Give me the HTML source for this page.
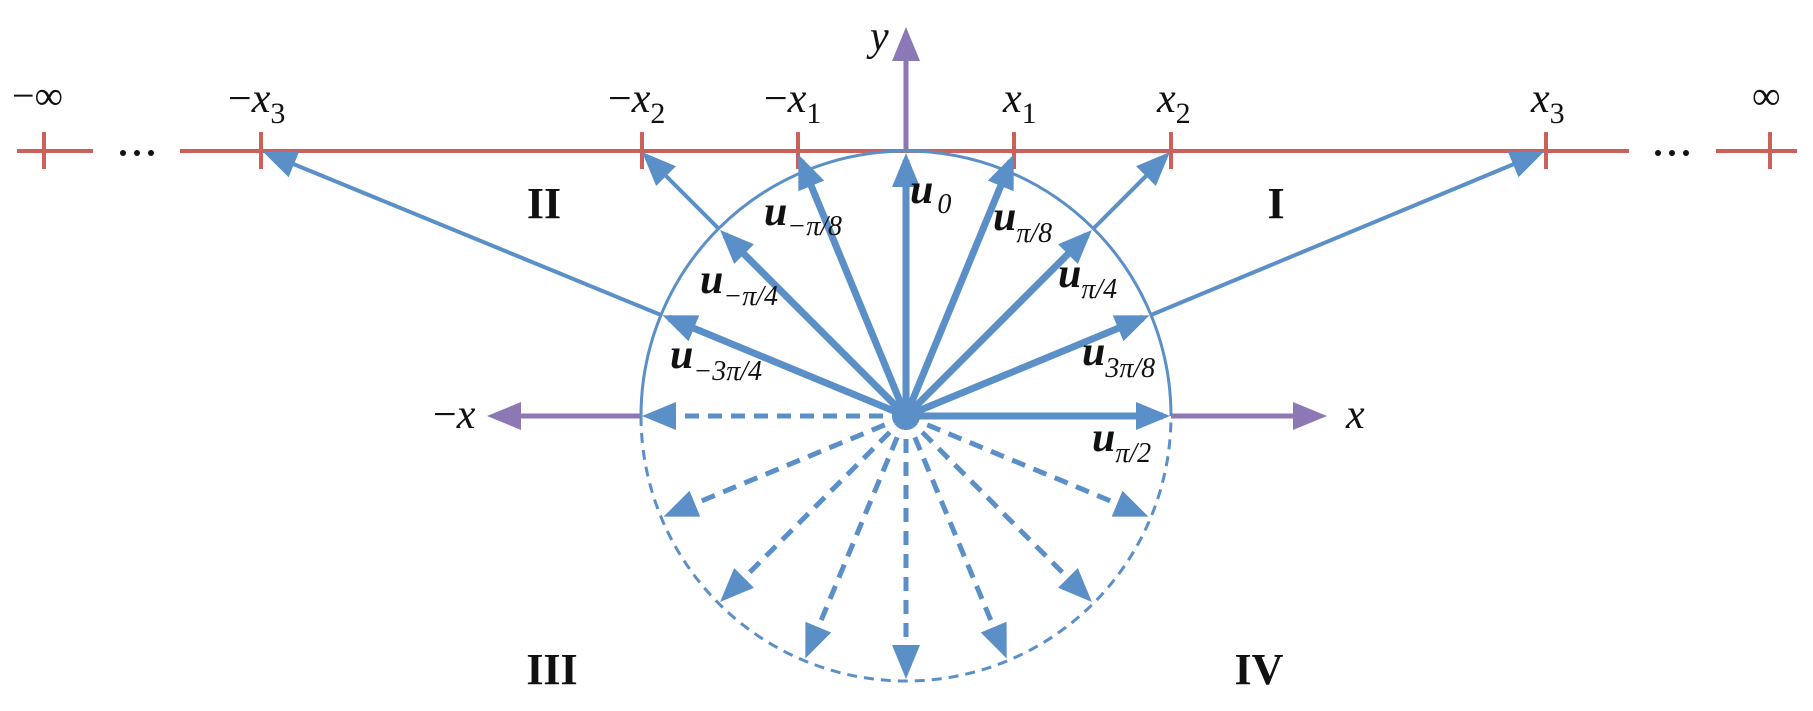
<!DOCTYPE html>
<html><head><meta charset="utf-8"><style>
html,body{margin:0;padding:0;background:#fff}
svg{display:block}
text{font-family:"Liberation Serif",serif;fill:#111}
.it{font-style:italic}
.u{font-weight:bold;font-style:italic;font-size:42px}
.s{font-style:italic;font-size:28px}
.r{font-weight:bold;font-size:44px}
</style></head><body>
<svg width="1813" height="711" viewBox="0 0 1813 711" xmlns="http://www.w3.org/2000/svg">
<defs>
<marker id="hb" markerUnits="userSpaceOnUse" markerWidth="36" markerHeight="30" refX="27" refY="14" orient="auto"><path d="M0,0 L34,14 L0,28 z" fill="#5b8fc7"/></marker>
<marker id="hp" markerUnits="userSpaceOnUse" markerWidth="36" markerHeight="30" refX="27" refY="14" orient="auto"><path d="M0,0 L34,14 L0,28 z" fill="#8c78b4"/></marker>
</defs>
<!-- red number line -->
<g stroke="#cc615b" stroke-width="4">
<line x1="17" y1="151" x2="93" y2="151"/>
<line x1="180" y1="151" x2="1629" y2="151"/>
<line x1="1716" y1="151" x2="1797" y2="151"/>
<line x1="44" y1="132" x2="44" y2="169"/>
<line x1="261" y1="132" x2="261" y2="169"/>
<line x1="642" y1="132" x2="642" y2="169"/>
<line x1="798" y1="132" x2="798" y2="169"/>
<line x1="1014" y1="132" x2="1014" y2="169"/>
<line x1="1171" y1="132" x2="1171" y2="169"/>
<line x1="1546" y1="132" x2="1546" y2="169"/>
<line x1="1770" y1="132" x2="1770" y2="169"/>
</g>
<g fill="#111">
<circle cx="123" cy="153" r="3"/><circle cx="137" cy="153" r="3"/><circle cx="151" cy="153" r="3"/>
<circle cx="1658" cy="153" r="3"/><circle cx="1672" cy="153" r="3"/><circle cx="1686" cy="153" r="3"/>
</g>
<!-- purple axes -->
<g stroke="#8c78b4" stroke-width="5" fill="none">
<line x1="906" y1="151" x2="906" y2="34" marker-end="url(#hp)"/>
<line x1="641" y1="416" x2="494" y2="416" marker-end="url(#hp)"/>
<line x1="1171" y1="416" x2="1320" y2="416" marker-end="url(#hp)"/>
</g>
<!-- circle -->
<path d="M641,416 A265,265 0 0 1 1171,416" fill="none" stroke="#5b8fc7" stroke-width="3"/>
<path d="M641,416 A265,265 0 0 0 1171,416" fill="none" stroke="#5b8fc7" stroke-width="3" stroke-dasharray="10,7"/>
<!-- thin extensions -->
<g stroke="#5b8fc7" stroke-width="4" fill="none">
<line x1="1093" y1="229" x2="1165" y2="157" marker-end="url(#hb)"/>
<line x1="719" y1="229" x2="647" y2="157" marker-end="url(#hb)"/>
<line x1="1151" y1="315" x2="1538" y2="154" marker-end="url(#hb)"/>
<line x1="661" y1="315" x2="269" y2="154" marker-end="url(#hb)"/>
</g>
<!-- thick solid vectors -->
<g stroke="#5b8fc7" stroke-width="7" fill="none">
<line x1="906" y1="416" x2="906" y2="160" marker-end="url(#hb)"/>
<line x1="906" y1="416" x2="1011" y2="161" marker-end="url(#hb)"/>
<line x1="906" y1="416" x2="801" y2="161" marker-end="url(#hb)"/>
<line x1="906" y1="416" x2="1087" y2="235" marker-end="url(#hb)"/>
<line x1="906" y1="416" x2="725" y2="235" marker-end="url(#hb)"/>
<line x1="906" y1="416" x2="1143" y2="318" marker-end="url(#hb)"/>
<line x1="906" y1="416" x2="669" y2="318" marker-end="url(#hb)"/>
<line x1="906" y1="416" x2="1163" y2="416" marker-end="url(#hb)"/>
</g>
<!-- dashed vectors -->
<g stroke="#5b8fc7" stroke-width="5" fill="none" stroke-dasharray="14,9">
<line x1="906" y1="416" x2="649" y2="416" marker-end="url(#hb)"/>
<line x1="906" y1="416" x2="1142" y2="514" marker-end="url(#hb)"/>
<line x1="906" y1="416" x2="670" y2="514" marker-end="url(#hb)"/>
<line x1="906" y1="416" x2="1087" y2="597" marker-end="url(#hb)"/>
<line x1="906" y1="416" x2="725" y2="597" marker-end="url(#hb)"/>
<line x1="906" y1="416" x2="1004" y2="652" marker-end="url(#hb)"/>
<line x1="906" y1="416" x2="808" y2="652" marker-end="url(#hb)"/>
<line x1="906" y1="416" x2="906" y2="672" marker-end="url(#hb)"/>
</g>
<circle cx="906" cy="418" r="9" fill="#5b8fc7"/>
<!-- top labels -->
<text x="12" y="109" font-size="40">−∞</text>
<text x="1752" y="109" font-size="40">∞</text>
<text x="228" y="112" font-size="42"><tspan>−</tspan><tspan class="it">x</tspan><tspan font-size="30" dy="11">3</tspan></text>
<text x="608" y="112" font-size="42"><tspan>−</tspan><tspan class="it">x</tspan><tspan font-size="30" dy="11">2</tspan></text>
<text x="764" y="112" font-size="42"><tspan>−</tspan><tspan class="it">x</tspan><tspan font-size="30" dy="11">1</tspan></text>
<text x="1003" y="112" font-size="42"><tspan class="it">x</tspan><tspan font-size="30" dy="11">1</tspan></text>
<text x="1157" y="112" font-size="42"><tspan class="it">x</tspan><tspan font-size="30" dy="11">2</tspan></text>
<text x="1531" y="112" font-size="42"><tspan class="it">x</tspan><tspan font-size="30" dy="11">3</tspan></text>
<text x="870" y="50" font-size="42" class="it">y</text>
<text x="433" y="428" font-size="42"><tspan>−</tspan><tspan class="it">x</tspan></text>
<text x="1346" y="428" font-size="42" class="it">x</text>
<!-- vector labels -->
<text x="910" y="203"><tspan class="u">u</tspan><tspan class="s" dx="4" dy="10">0</tspan></text>
<text x="764" y="225"><tspan class="u">u</tspan><tspan class="s" dy="10">−π/8</tspan></text>
<text x="993" y="230"><tspan class="u">u</tspan><tspan class="s" dy="12">π/8</tspan></text>
<text x="700" y="293"><tspan class="u">u</tspan><tspan class="s" dy="12">−π/4</tspan></text>
<text x="1058" y="287"><tspan class="u">u</tspan><tspan class="s" dy="11">π/4</tspan></text>
<text x="670" y="368"><tspan class="u">u</tspan><tspan class="s" dy="12">−3π/4</tspan></text>
<text x="1082" y="365"><tspan class="u">u</tspan><tspan class="s" dy="12">3π/8</tspan></text>
<text x="1092" y="451"><tspan class="u">u</tspan><tspan class="s" dy="11">π/2</tspan></text>
<!-- region labels -->
<text x="544" y="218" class="r" text-anchor="middle">II</text>
<text x="1276" y="218" class="r" text-anchor="middle">I</text>
<text x="552" y="684" class="r" text-anchor="middle">III</text>
<text x="1259" y="684" class="r" text-anchor="middle">IV</text>
</svg>
</body></html>
